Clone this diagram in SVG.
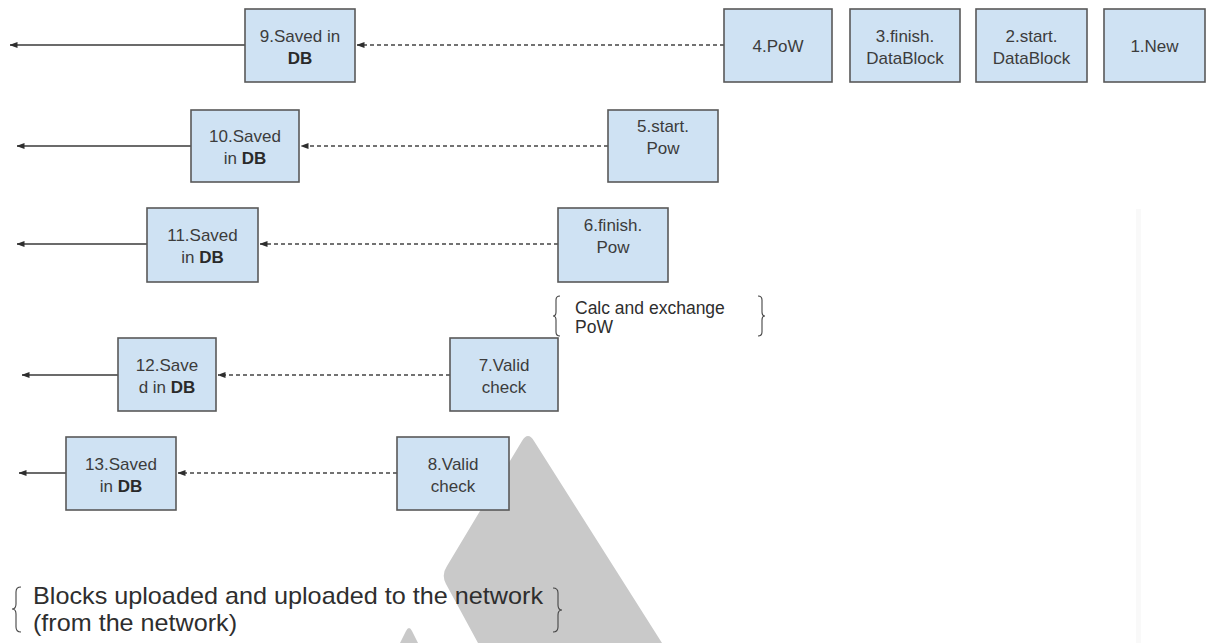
<svg xmlns="http://www.w3.org/2000/svg" width="1208" height="643" viewBox="0 0 1208 643">
<defs>
<style>
.box{fill:#cfe2f3;stroke:#595959;stroke-width:1.6}
.t{font-family:"Liberation Sans",Arial,sans-serif;font-size:17px;fill:#3c3c3c;text-anchor:middle}
.b{font-weight:bold;fill:#2a2a2a}
.solid{stroke:#3a3a3a;stroke-width:1.4;fill:none}
.dash{stroke:#444444;stroke-width:1.3;fill:none;stroke-dasharray:4 3}
.brace{stroke:#444;stroke-width:1.1;fill:none}
.note{font-family:"Liberation Sans",Arial,sans-serif;fill:#2e2e2e}
</style>
<marker id="ah" viewBox="0 0 8 6" refX="7.5" refY="3" markerWidth="8" markerHeight="6" markerUnits="userSpaceOnUse" orient="auto">
<path d="M0,0 L8,3 L0,6 z" fill="#2e2e2e"/>
</marker>
</defs>
<rect width="1208" height="643" fill="#ffffff"/>
<rect x="1136" y="209" width="5" height="434" fill="#f9f9f9"/>
<g id="watermark" fill="#c9c9c9">
<path d="M522,441 Q528,431 534,441 L662,643 L478,643 L446,584 Q441,575 447,566 Z"/>
<path d="M400,643 L406,631 Q409,625 412,631 L418,643 Z"/>
</g>
<g id="connectors">
<line class="solid" x1="245" y1="45" x2="10" y2="45" marker-end="url(#ah)"/>
<line class="dash" x1="724" y1="45" x2="357" y2="45" marker-end="url(#ah)"/>
<line class="solid" x1="191" y1="146" x2="17" y2="146" marker-end="url(#ah)"/>
<line class="dash" x1="608" y1="146" x2="301" y2="146" marker-end="url(#ah)"/>
<line class="solid" x1="147" y1="244" x2="17" y2="244" marker-end="url(#ah)"/>
<line class="dash" x1="558" y1="244" x2="260" y2="244" marker-end="url(#ah)"/>
<line class="solid" x1="118" y1="375" x2="22" y2="375" marker-end="url(#ah)"/>
<line class="dash" x1="450" y1="375" x2="218" y2="375" marker-end="url(#ah)"/>
<line class="solid" x1="66" y1="473" x2="19" y2="473" marker-end="url(#ah)"/>
<line class="dash" x1="397" y1="473" x2="178" y2="473" marker-end="url(#ah)"/>
</g>
<g id="n9"><rect class="box" x="245" y="9" width="110" height="73"/><text class="t" x="300" y="41.5">9.Saved in</text><text class="t b" x="300" y="63.5">DB</text></g>
<g id="n4"><rect class="box" x="724" y="9" width="108" height="73"/><text class="t" x="778" y="51.5">4.PoW</text></g>
<g id="n3"><rect class="box" x="850" y="9" width="110" height="73"/><text class="t" x="905" y="41.5">3.finish.</text><text class="t" x="905" y="63.5">DataBlock</text></g>
<g id="n2"><rect class="box" x="976" y="9" width="111" height="73"/><text class="t" x="1031.5" y="41.5">2.start.</text><text class="t" x="1031.5" y="63.5">DataBlock</text></g>
<g id="n1"><rect class="box" x="1104" y="9" width="101" height="73"/><text class="t" x="1154.5" y="51.5">1.New</text></g>
<g id="n10"><rect class="box" x="191" y="110" width="108" height="72"/><text class="t" x="245" y="142">10.Saved</text><text class="t" x="245" y="164">in <tspan class="b">DB</tspan></text></g>
<g id="n5"><rect class="box" x="608" y="110" width="110" height="72"/><text class="t" x="663" y="132">5.start.</text><text class="t" x="663" y="154">Pow</text></g>
<g id="n11"><rect class="box" x="147" y="208" width="111" height="74"/><text class="t" x="202.5" y="241">11.Saved</text><text class="t" x="202.5" y="263">in <tspan class="b">DB</tspan></text></g>
<g id="n6"><rect class="box" x="558" y="208" width="110" height="74"/><text class="t" x="613" y="231">6.finish.</text><text class="t" x="613" y="253">Pow</text></g>
<g id="n12"><rect class="box" x="118" y="338" width="98" height="73"/><text class="t" x="167" y="370.5">12.Save</text><text class="t" x="167" y="392.5">d in <tspan class="b">DB</tspan></text></g>
<g id="n7"><rect class="box" x="450" y="338" width="108" height="73"/><text class="t" x="504" y="370.5">7.Valid</text><text class="t" x="504" y="392.5">check</text></g>
<g id="n13"><rect class="box" x="66" y="437" width="110" height="73"/><text class="t" x="121" y="469.5">13.Saved</text><text class="t" x="121" y="491.5">in <tspan class="b">DB</tspan></text></g>
<g id="n8"><rect class="box" x="397" y="437" width="112" height="73"/><text class="t" x="453" y="469.5">8.Valid</text><text class="t" x="453" y="491.5">check</text></g>
<g id="note-calc">
<path class="brace" d="M560,296 Q556,296 556,300 L556,312 Q556,316 553,316 Q556,316 556,320 L556,332 Q556,336 560,336"/>
<text class="note" x="575" y="314" font-size="17.5">Calc and exchange</text>
<text class="note" x="575" y="333" font-size="17.5">PoW</text>
<path class="brace" d="M758,296 Q762,296 762,300 L762,312 Q762,316 765,316 Q762,316 762,320 L762,332 Q762,336 758,336"/>
</g>
<g id="note-blocks">
<path class="brace" d="M21,587 Q16,587 16,592 L16,604 Q16,609 12,609 Q16,609 16,614 L16,627 Q16,632 21,632"/>
<text class="note" x="33" y="604" font-size="24" textLength="510" lengthAdjust="spacingAndGlyphs">Blocks uploaded and uploaded to the network</text>
<text class="note" x="33" y="631" font-size="24" textLength="204" lengthAdjust="spacingAndGlyphs">(from the network)</text>
<path class="brace" d="M553,588 Q558,588 558,593 L558,605 Q558,610 562,610 Q558,610 558,615 L558,627 Q558,632 553,632"/>
</g>
</svg>
